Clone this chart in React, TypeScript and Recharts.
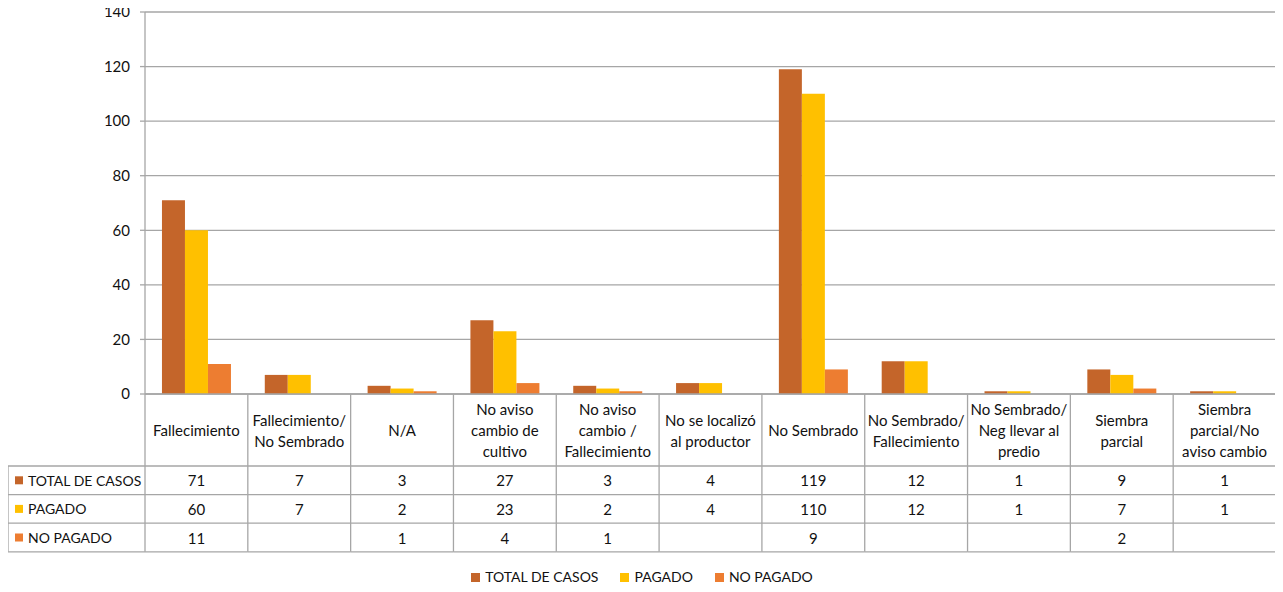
import React from "react";
import { BarChart, Bar, XAxis, YAxis, CartesianGrid, Legend } from "recharts";

// ---- data ----
const categories: string[] = [
  "Fallecimiento",
  "Fallecimiento/ No Sembrado",
  "N/A",
  "No aviso cambio de cultivo",
  "No aviso cambio / Fallecimiento",
  "No se localizó al productor",
  "No Sembrado",
  "No Sembrado/ Fallecimiento",
  "No Sembrado/ Neg llevar al predio",
  "Siembra parcial",
  "Siembra parcial/No aviso cambio",
];
const categoryLines: string[][] = [
  ["Fallecimiento"],
  ["Fallecimiento/", "No Sembrado"],
  ["N/A"],
  ["No aviso", "cambio de", "cultivo"],
  ["No aviso", "cambio /", "Fallecimiento"],
  ["No se localizó", "al productor"],
  ["No Sembrado"],
  ["No Sembrado/", "Fallecimiento"],
  ["No Sembrado/", "Neg llevar al", "predio"],
  ["Siembra", "parcial"],
  ["Siembra", "parcial/No", "aviso cambio"],
];
const totalCasos: (number | null)[] = [71, 7, 3, 27, 3, 4, 119, 12, 1, 9, 1];
const pagado: (number | null)[] = [60, 7, 2, 23, 2, 4, 110, 12, 1, 7, 1];
const noPagado: (number | null)[] = [11, null, 1, 4, 1, null, 9, null, null, 2, null];
const yTicks: number[] = [0, 20, 40, 60, 80, 100, 120, 140];

const seriesNames = ["TOTAL DE CASOS", "PAGADO", "NO PAGADO"];
const seriesKeys = ["total", "pagado", "noPagado"];
const seriesColors = ["#C4652A", "#FFC000", "#ED7D31"];
const seriesValues = [totalCasos, pagado, noPagado];

const data = categories.map((c, i) => ({
  name: c,
  total: totalCasos[i],
  pagado: pagado[i],
  noPagado: noPagado[i],
}));

// ---- layout ----
const FONT = "Lato, 'Liberation Sans', sans-serif";
const CHART_W = 1275;
const CHART_H = 584;
const MARGIN = { top: 12, right: 7, left: 0, bottom: 0 };
const Y_W = 137;
const LEGEND_H = 30;
const XAXIS_H = 160;
const PLOT_W = CHART_W - MARGIN.left - MARGIN.right - Y_W;
const HEADER_H = 72;
const ROW_H = 28.6;
const LINE_H = 21;
const GRID = "#A6A6A6";
const TEXT = "#111";
const FS = 15;

function TableTick(props: any) {
  const { x, y, payload } = props;
  const i: number = payload.index ?? props.index ?? 0;
  const colW = PLOT_W / categories.length;
  const left = x - colW / 2;
  const right = x + colW / 2;
  const bottom = y + HEADER_H + ROW_H * seriesNames.length;
  const lines = categoryLines[i];
  const hc = y + HEADER_H / 2;
  const els: React.ReactNode[] = [];

  lines.forEach((ln, k) => {
    els.push(
      <text
        key={"h" + k}
        x={x}
        y={hc + (k - (lines.length - 1) / 2) * LINE_H}
        textAnchor="middle"
        dominantBaseline="central"
        fontSize={FS}
        fontFamily={FONT}
        fill={TEXT}
      >
        {ln}
      </text>
    );
  });
  els.push(<line key="vr" x1={right} x2={right} y1={y} y2={bottom} stroke={GRID} strokeWidth={1.3} />);
  if (i === 0) {
    els.push(<line key="vl" x1={left} x2={left} y1={y} y2={bottom} stroke={GRID} strokeWidth={1.3} />);
    const lx = left - Y_W;
    els.push(<line key="lv" x1={lx} x2={lx} y1={y + HEADER_H} y2={bottom} stroke={GRID} strokeWidth={1.3} />);
    for (let r = 0; r <= seriesNames.length; r++) {
      const yy = y + HEADER_H + r * ROW_H;
      els.push(<line key={"lh" + r} x1={lx} x2={left} y1={yy} y2={yy} stroke={GRID} strokeWidth={1.3} />);
    }
    seriesNames.forEach((nm, r) => {
      const cy = y + HEADER_H + r * ROW_H + ROW_H / 2;
      els.push(<rect key={"ls" + r} x={lx + 7} y={cy - 4} width={8} height={8} fill={seriesColors[r]} />);
      els.push(
        <text key={"lt" + r} x={lx + 20} y={cy} dominantBaseline="central" fontSize={14} fontFamily={FONT} fill={TEXT}>
          {nm}
        </text>
      );
    });
  }
  for (let r = 0; r <= seriesNames.length; r++) {
    const yy = y + HEADER_H + r * ROW_H;
    els.push(<line key={"rh" + r} x1={left} x2={right} y1={yy} y2={yy} stroke={GRID} strokeWidth={1.3} />);
  }
  seriesValues.forEach((vals, r) => {
    const v = vals[i];
    if (v === null || v === undefined) return;
    const cy = y + HEADER_H + r * ROW_H + ROW_H / 2;
    els.push(
      <text key={"v" + r} x={x} y={cy} textAnchor="middle" dominantBaseline="central" fontSize={FS} fontFamily={FONT} fill={TEXT}>
        {v}
      </text>
    );
  });
  return <g>{els}</g>;
}

function LegendContent() {
  return (
    <div
      style={{
        height: LEGEND_H,
        display: "flex",
        justifyContent: "center",
        alignItems: "center",
        fontFamily: FONT,
        fontSize: 14,
        color: TEXT,
        boxSizing: "border-box",
        paddingTop: 16,
      }}
    >
      {seriesNames.map((nm, i) => (
        <div key={nm} style={{ display: "flex", alignItems: "center", marginRight: i < 2 ? 22 : 0, lineHeight: "14px" }}>
          <span style={{ display: "inline-block", width: 9, height: 9, background: seriesColors[i], marginRight: 5 }} />
          <span>{nm}</span>
        </div>
      ))}
    </div>
  );
}

export default function App() {
  return (
    <div style={{ width: CHART_W, height: CHART_H, marginTop: -8, fontFamily: FONT }}>
      <BarChart
        width={CHART_W}
        height={CHART_H}
        data={data}
        margin={MARGIN}
        barCategoryGap="16.5%"
        barGap={0}
      >
        <CartesianGrid vertical={false} stroke={GRID} strokeWidth={1.3} />
        <XAxis
          dataKey="name"
          interval={0}
          height={XAXIS_H}
          tickLine={false}
          tickSize={0}
          tickMargin={0}
          axisLine={{ stroke: GRID, strokeWidth: 1.3 }}
          tick={<TableTick />}
        />
        <YAxis
          width={Y_W}
          domain={[0, 140]}
          ticks={yTicks}
          interval={0}
          tickSize={5}
          tickMargin={10}
          axisLine={{ stroke: GRID, strokeWidth: 1.3 }}
          tickLine={{ stroke: GRID, strokeWidth: 1.3 }}
          tick={{ fontSize: FS, fontFamily: FONT, fill: TEXT }}
        />
        <Legend verticalAlign="bottom" height={LEGEND_H} content={<LegendContent />} />
        {seriesKeys.map((k, i) => (
          <Bar key={k} dataKey={k} name={seriesNames[i]} fill={seriesColors[i]} isAnimationActive={false} />
        ))}
      </BarChart>
    </div>
  );
}
